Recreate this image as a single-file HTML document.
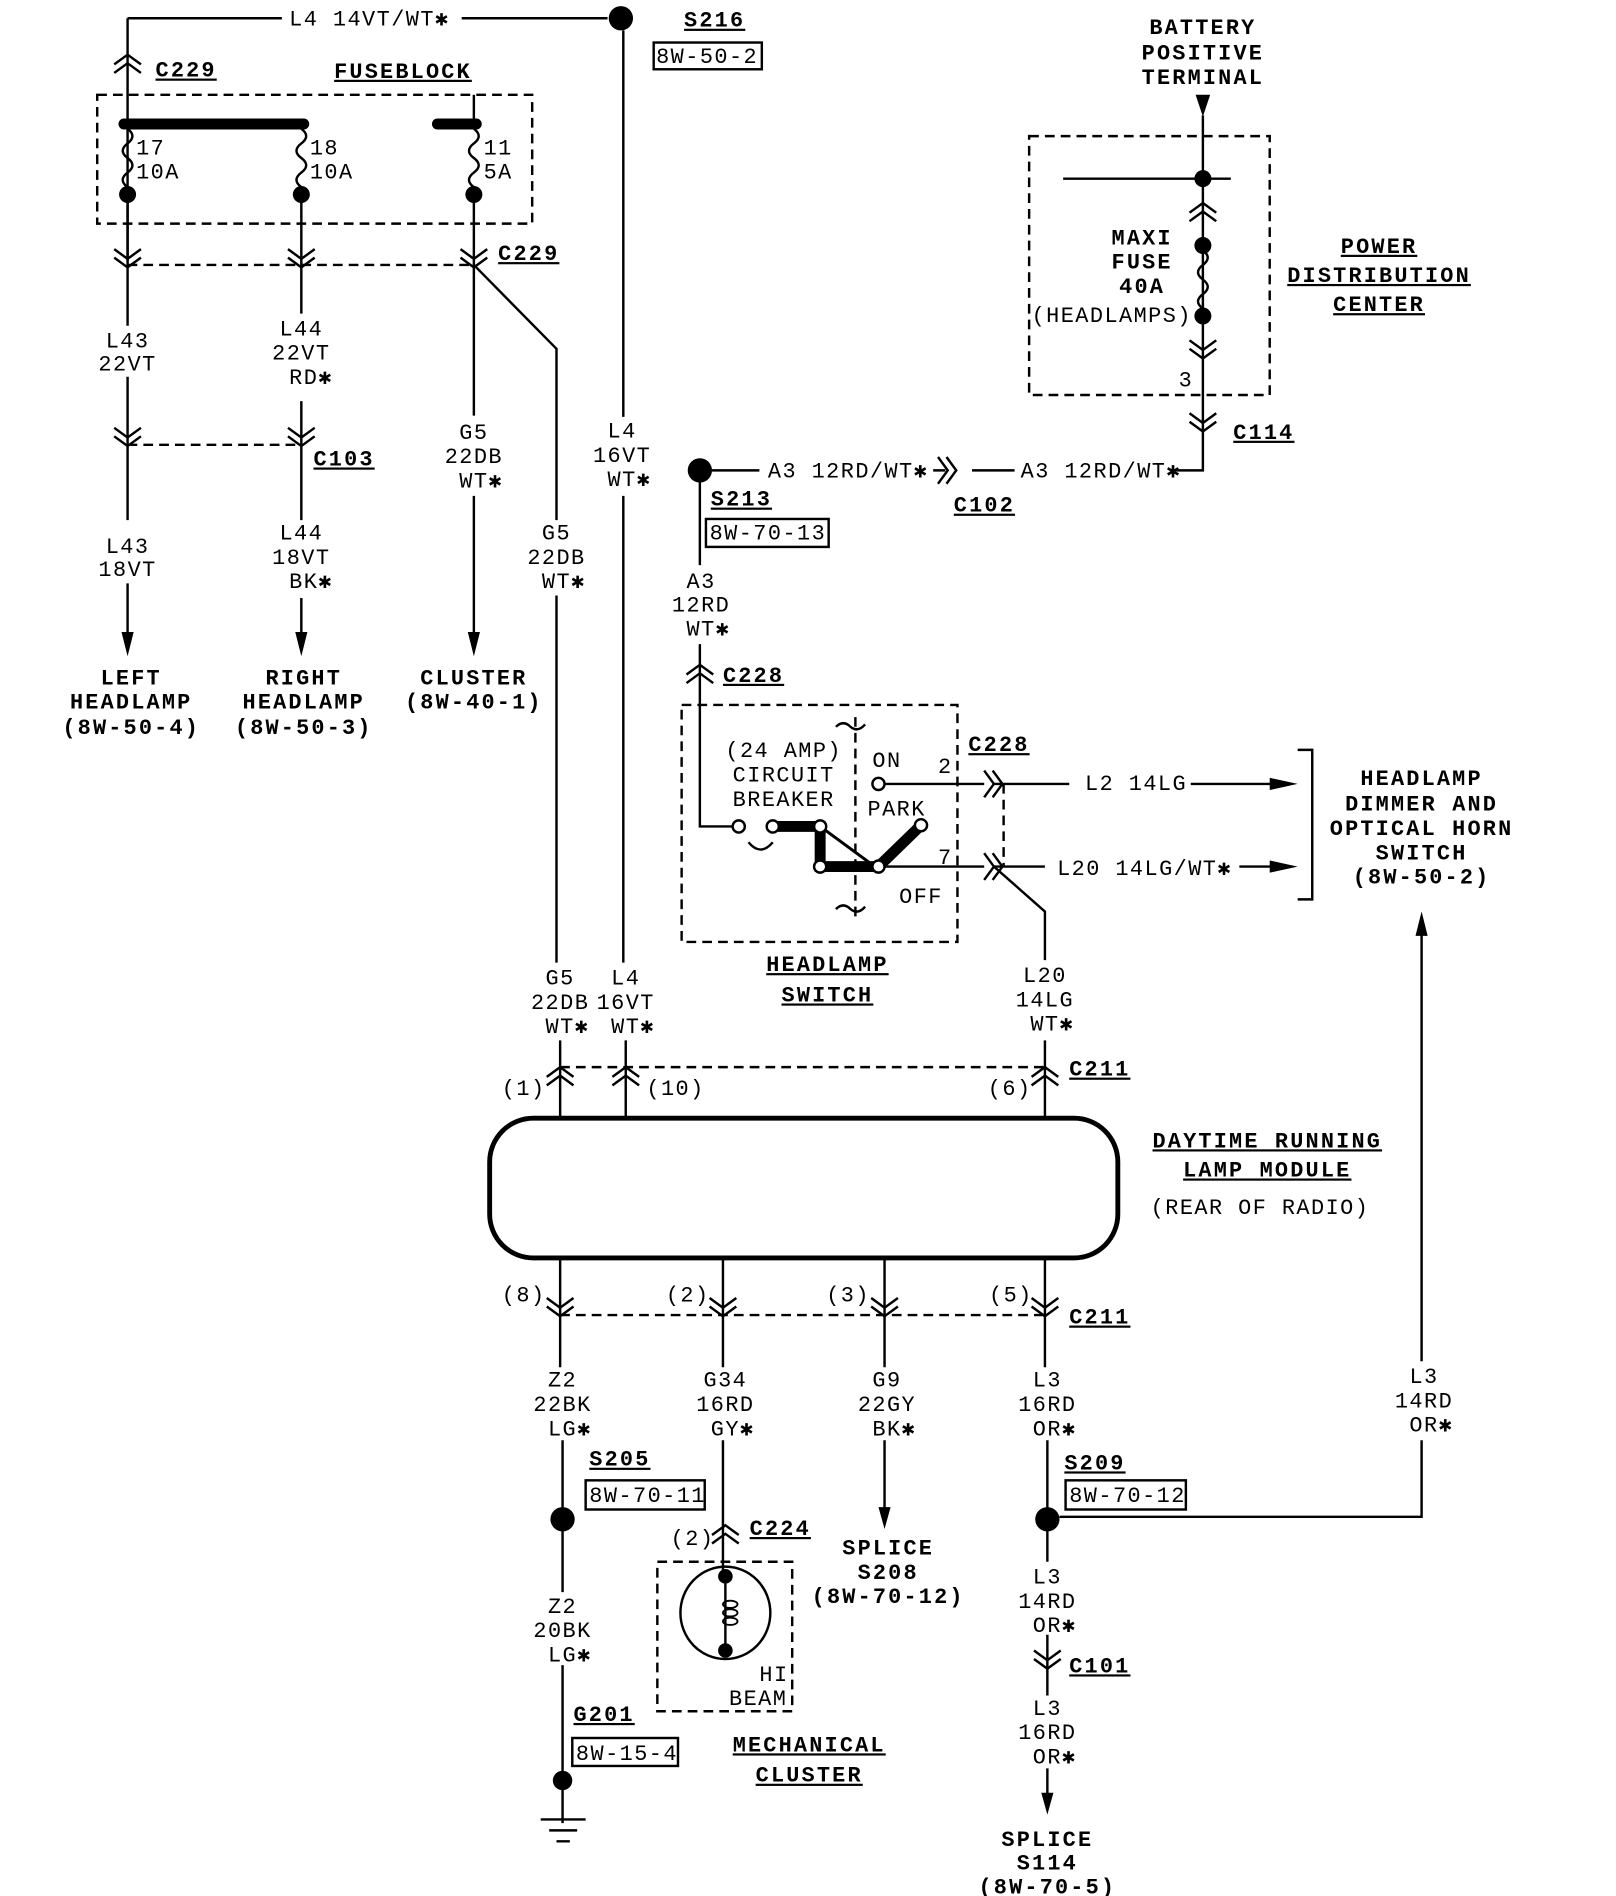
<!DOCTYPE html>
<html><head><meta charset="utf-8">
<style>
html,body{margin:0;padding:0;background:#fff;}
svg{display:block;}
text{font-family:"Liberation Mono",monospace;font-size:18px;fill:#000;letter-spacing:1.2px;}
.b{font-weight:bold;font-size:18px;letter-spacing:1.8px;}
.u{text-decoration:underline;}
</style></head><body>
<svg width="1616" height="1896" viewBox="0 0 1330 1560" preserveAspectRatio="none" xmlns="http://www.w3.org/2000/svg">
<defs>
<g id="dn"><path d="M-11,-10 L0,-2 L11,-10 M-11,-3 L0,5 L11,-3" fill="none" stroke="#000" stroke-width="2"/></g>
<g id="up"><path d="M-11,10 L0,2 L11,10 M-11,3 L0,-5 L11,3" fill="none" stroke="#000" stroke-width="2"/></g>
<g id="rt"><path d="M-10,-11 L-2,0 L-10,11 M-3,-11 L5,0 L-3,11" fill="none" stroke="#000" stroke-width="2"/></g>
</defs>
<g fill="none" stroke="#000" stroke-width="2">
<path d="M105,15 L232,15 M380,15 L500,15"/>
<path d="M105,15 L105,215"/>
<path d="M513,25 L513,343 M513,408 L513,792 M515,856 L515,920"/>
<rect x="80" y="78" width="358" height="106" stroke-dasharray="8,5"/>
<path d="M390,78 L390,100"/>
<path d="M105,106 q8,6 0,12 q-8,6 0,12 q8,6 0,12 q-8,6 0,12 L105,160"/>
<path d="M248,106 q8,6 0,12 q-8,6 0,12 q8,6 0,12 q-8,6 0,12 L248,160"/>
<path d="M390,106 q8,6 0,12 q-8,6 0,12 q8,6 0,12 q-8,6 0,12 L390,160"/>
<path d="M105,160 L105,268 M105,310 L105,428 M105,480 L105,525"/>
<path d="M248,160 L248,258 M248,330 L248,428 M248,492 L248,525"/>
<path d="M390,160 L390,342 M390,408 L390,525"/>
<path d="M390,218 L458,287 L458,428 M458,490 L458,792"/>
<path d="M105,218 L390,218 M105,366 L248,366" stroke-dasharray="8,5"/>
<path d="M586,387 L625,387 M768,387 L778,387 M800,387 L835,387 M968,387 L990,387 L990,95"/>
<path d="M576,397 L576,465 M576,530 L576,680 L604,680"/>
<rect x="847" y="112" width="198" height="213" stroke-dasharray="8,5"/>
<path d="M875,147 L1013,147"/>
<path d="M990,206 q8,6 0,12 q-8,6 0,12 q8,6 0,12 q-8,6 0,12"/>
<rect x="561" y="580" width="227" height="195" stroke-dasharray="8,5"/>
<path d="M704,590 L704,755" stroke-dasharray="8,5"/>
<path d="M688,598 q6,-6 12,0 q6,5 12,-2 M688,748 q6,-6 12,0 q6,5 12,-2"/>
<path d="M616,693 q10,12 20,0"/>
<path d="M728,645 L810,645 M727,713 L810,713"/>
<path d="M818,645 L880,645 M980,645 L1060,645 M818,713 L860,713 M1020,713 L1060,713"/>
<path d="M1068,617 L1080,617 L1080,740 L1068,740"/>
<path d="M826,645 L826,713" stroke-dasharray="8,5"/>
<path d="M818,713 L860,750 L860,790"/>
<path d="M675,680 L720,713" stroke-width="2.5"/>
<path d="M1170,765 L1170,1120 M1170,1185 L1170,1248 L872,1248"/>
<rect x="403" y="920" width="517" height="115" rx="36" stroke-width="4"/>
<path d="M461,856 L461,920 M860,856 L860,920"/>
<path d="M461,878 L860,878 M461,1082 L860,1082" stroke-dasharray="8,5"/>
<path d="M461,1035 L461,1125 M595,1035 L595,1125 M728,1035 L728,1125 M860,1035 L860,1125"/>
<path d="M463,1185 L463,1310 M463,1370 L463,1500"/>
<path d="M595,1185 L595,1297 M597,1297 L597,1358"/>
<path d="M728,1185 L728,1245"/>
<path d="M862,1185 L862,1285 M862,1345 L862,1395 M862,1455 L862,1480"/>
<rect x="541" y="1285" width="111" height="123" stroke-dasharray="8,5"/>
<ellipse cx="597" cy="1327" rx="37" ry="38"/>
<path d="M445,1497 L482,1497 M452,1506 L475,1506 M458,1515 L469,1515"/>
<rect x="538" y="35" width="89" height="22"/>
<rect x="581" y="427" width="101" height="23"/>
<rect x="877" y="1218" width="99" height="24"/>
<rect x="482" y="1218" width="98" height="24"/>
<rect x="471" y="1430" width="87" height="23"/>
</g>
<g fill="none" stroke="#000" stroke-width="1.5"><ellipse cx="601" cy="1320" rx="6" ry="3"/><ellipse cx="601" cy="1327" rx="6" ry="3"/><ellipse cx="601" cy="1334" rx="6" ry="3"/></g>
<g stroke="#000" stroke-width="9" stroke-linecap="round" fill="none">
<path d="M102,102 L250,102"/><path d="M360,102 L392,102"/>
<path d="M636,680 L675,680 L675,713 L723,713 L758,679"/>
</g>
<g fill="#fff" stroke="#000" stroke-width="2">
<circle cx="608" cy="680" r="5"/><circle cx="636" cy="680" r="5"/><circle cx="675" cy="680" r="5"/><circle cx="675" cy="713" r="5"/><circle cx="723" cy="713" r="5"/><circle cx="758" cy="679" r="5"/><circle cx="723" cy="645" r="5"/>
</g>
<g fill="#000">
<circle cx="511" cy="15" r="10"/><circle cx="576" cy="387" r="10"/>
<circle cx="105" cy="160" r="7"/><circle cx="248" cy="160" r="7"/><circle cx="390" cy="160" r="7"/>
<circle cx="990" cy="147" r="7"/><circle cx="990" cy="202" r="7"/><circle cx="990" cy="260" r="7"/>
<circle cx="463" cy="1250" r="10"/><circle cx="862" cy="1250" r="10"/><circle cx="463" cy="1465" r="8"/>
<circle cx="597" cy="1297" r="6"/><circle cx="597" cy="1358" r="6"/>
<path d="M984,78 L996,78 L990,96Z"/>
<path d="M100,520 L110,520 L105,540Z"/><path d="M243,520 L253,520 L248,540Z"/><path d="M385,520 L395,520 L390,540Z"/>
<path d="M723,1240 L733,1240 L728,1258Z"/><path d="M857,1475 L867,1475 L862,1493Z"/>
<path d="M1045,640 L1068,645 L1045,650Z"/><path d="M1045,708 L1068,713 L1045,718Z"/>
<path d="M1165,770 L1175,770 L1170,750Z"/>
</g>
<use href="#up" x="105" y="50"/>
<use href="#dn" x="105" y="215"/><use href="#dn" x="248" y="215"/><use href="#dn" x="390" y="215"/>
<use href="#dn" x="105" y="362"/><use href="#dn" x="248" y="362"/>
<use href="#up" x="990" y="172"/><use href="#dn" x="990" y="290"/><use href="#dn" x="990" y="350"/>
<use href="#rt" x="782" y="387"/>
<use href="#up" x="576" y="552"/>
<use href="#rt" x="820" y="645"/><use href="#rt" x="820" y="713"/>
<use href="#up" x="461" y="883"/><use href="#up" x="515" y="883"/><use href="#up" x="860" y="883"/>
<use href="#dn" x="461" y="1078"/><use href="#dn" x="595" y="1078"/><use href="#dn" x="728" y="1078"/><use href="#dn" x="860" y="1078"/>
<use href="#up" x="597" y="1260"/><use href="#dn" x="862" y="1368"/>
<g>
<text x="238" y="21">L4 14VT/WT✱</text>
<text x="540" y="52">8W-50-2</text>
<text x="112" y="127">17</text><text x="112" y="147">10A</text>
<text x="255" y="127">18</text><text x="255" y="147">10A</text>
<text x="398" y="127">11</text><text x="398" y="147">5A</text>
<g text-anchor="middle">
<text x="105" y="286">L43</text><text x="105" y="305">22VT</text>
<text x="248" y="276">L44</text><text x="248" y="296">22VT</text><text x="256" y="316">RD✱</text>
<text x="105" y="455">L43</text><text x="105" y="474">18VT</text>
<text x="248" y="444">L44</text><text x="248" y="464">18VT</text><text x="256" y="484">BK✱</text>
<text x="390" y="361">G5</text><text x="390" y="381">22DB</text><text x="396" y="401">WT✱</text>
<text x="458" y="444">G5</text><text x="458" y="464">22DB</text><text x="464" y="484">WT✱</text>
<text x="512" y="360">L4</text><text x="512" y="380">16VT</text><text x="518" y="400">WT✱</text>
<text x="577" y="484">A3</text><text x="577" y="503">12RD</text><text x="583" y="523">WT✱</text>
<text x="645" y="623">(24 AMP)</text><text x="645" y="643">CIRCUIT</text><text x="645" y="663">BREAKER</text>
<text x="461" y="810">G5</text><text x="461" y="830">22DB</text><text x="467" y="850">WT✱</text>
<text x="515" y="810">L4</text><text x="515" y="830">16VT</text><text x="521" y="850">WT✱</text>
<text x="860" y="808">L20</text><text x="860" y="828">14LG</text><text x="866" y="848">WT✱</text>
<text x="463" y="1141">Z2</text><text x="463" y="1161">22BK</text><text x="469" y="1181">LG✱</text>
<text x="597" y="1141">G34</text><text x="597" y="1161">16RD</text><text x="603" y="1181">GY✱</text>
<text x="730" y="1141">G9</text><text x="730" y="1161">22GY</text><text x="736" y="1181">BK✱</text>
<text x="862" y="1141">L3</text><text x="862" y="1161">16RD</text><text x="868" y="1181">OR✱</text>
<text x="1172" y="1138">L3</text><text x="1172" y="1158">14RD</text><text x="1178" y="1178">OR✱</text>
<text x="463" y="1327">Z2</text><text x="463" y="1347">20BK</text><text x="469" y="1367">LG✱</text>
<text x="862" y="1303">L3</text><text x="862" y="1323">14RD</text><text x="868" y="1343">OR✱</text>
<text x="862" y="1411">L3</text><text x="862" y="1431">16RD</text><text x="868" y="1451">OR✱</text>
<text x="637" y="1383">HI</text><text x="624" y="1403">BEAM</text>
<text x="1037" y="999">(REAR OF RADIO)</text>
<text x="915" y="265">(HEADLAMPS)</text>
</g>
<text x="632" y="393">A3 12RD/WT✱</text>
<text x="840" y="393">A3 12RD/WT✱</text>
<text x="584" y="444">8W-70-13</text>
<text x="970" y="318">3</text>
<text x="718" y="631">ON</text><text x="772" y="636">2</text>
<text x="714" y="671">PARK</text><text x="772" y="711">7</text><text x="740" y="743">OFF</text>
<text x="893" y="650">L2 14LG</text>
<text x="870" y="720">L20 14LG/WT✱</text>
<text x="413" y="901">(1)</text><text x="532" y="901">(10)</text><text x="813" y="901">(6)</text>
<text x="413" y="1071">(8)</text><text x="548" y="1071">(2)</text><text x="680" y="1071">(3)</text><text x="814" y="1071">(5)</text>
<text x="485" y="1236">8W-70-11</text>
<text x="880" y="1236">8W-70-12</text>
<text x="474" y="1448">8W-15-4</text>
<text x="552" y="1271">(2)</text>
</g>
<g class="b">
<text class="b u" x="563" y="22">S216</text>
<text class="b u" x="128" y="63">C229</text>
<text class="b u" x="275" y="64">FUSEBLOCK</text>
<text class="b u" x="410" y="214">C229</text>
<text class="b u" x="258" y="383">C103</text>
<text class="b u" x="785" y="421">C102</text>
<text class="b u" x="1015" y="361">C114</text>
<text class="b u" x="585" y="416">S213</text>
<text class="b u" x="595" y="561">C228</text>
<text class="b u" x="797" y="618">C228</text>
<text class="b u" x="880" y="885">C211</text>
<text class="b u" x="880" y="1089">C211</text>
<text class="b u" x="485" y="1206">S205</text>
<text class="b u" x="876" y="1209">S209</text>
<text class="b u" x="472" y="1416">G201</text>
<text class="b u" x="617" y="1263">C224</text>
<text class="b u" x="880" y="1376">C101</text>
<g text-anchor="middle">
<text class="b" x="108" y="563">LEFT</text><text class="b" x="108" y="583">HEADLAMP</text><text class="b" x="108" y="604">(8W-50-4)</text>
<text class="b" x="250" y="563">RIGHT</text><text class="b" x="250" y="583">HEADLAMP</text><text class="b" x="250" y="604">(8W-50-3)</text>
<text class="b" x="390" y="563">CLUSTER</text><text class="b" x="390" y="583">(8W-40-1)</text>
<text class="b" x="990" y="28">BATTERY</text><text class="b" x="990" y="49">POSITIVE</text><text class="b" x="990" y="69">TERMINAL</text>
<text class="b" x="940" y="201">MAXI</text><text class="b" x="940" y="221">FUSE</text><text class="b" x="940" y="241">40A</text>
<text class="b u" x="1135" y="208">POWER</text><text class="b u" x="1135" y="232">DISTRIBUTION</text><text class="b u" x="1135" y="256">CENTER</text>
<text class="b" x="1170" y="646">HEADLAMP</text><text class="b" x="1170" y="667">DIMMER AND</text><text class="b" x="1170" y="687">OPTICAL HORN</text><text class="b" x="1170" y="707">SWITCH</text><text class="b" x="1170" y="727">(8W-50-2)</text>
<text class="b u" x="681" y="799">HEADLAMP</text><text class="b u" x="681" y="824">SWITCH</text>
<text class="b u" x="1043" y="944">DAYTIME RUNNING</text><text class="b u" x="1043" y="968">LAMP MODULE</text>
<text class="b" x="731" y="1279">SPLICE</text><text class="b" x="731" y="1299">S208</text><text class="b" x="731" y="1319">(8W-70-12)</text>
<text class="b u" x="666" y="1441">MECHANICAL</text><text class="b u" x="666" y="1466">CLUSTER</text>
<text class="b" x="862" y="1519">SPLICE</text><text class="b" x="862" y="1538">S114</text><text class="b" x="862" y="1558">(8W-70-5)</text>
</g>
</g>
</svg>
</body></html>
